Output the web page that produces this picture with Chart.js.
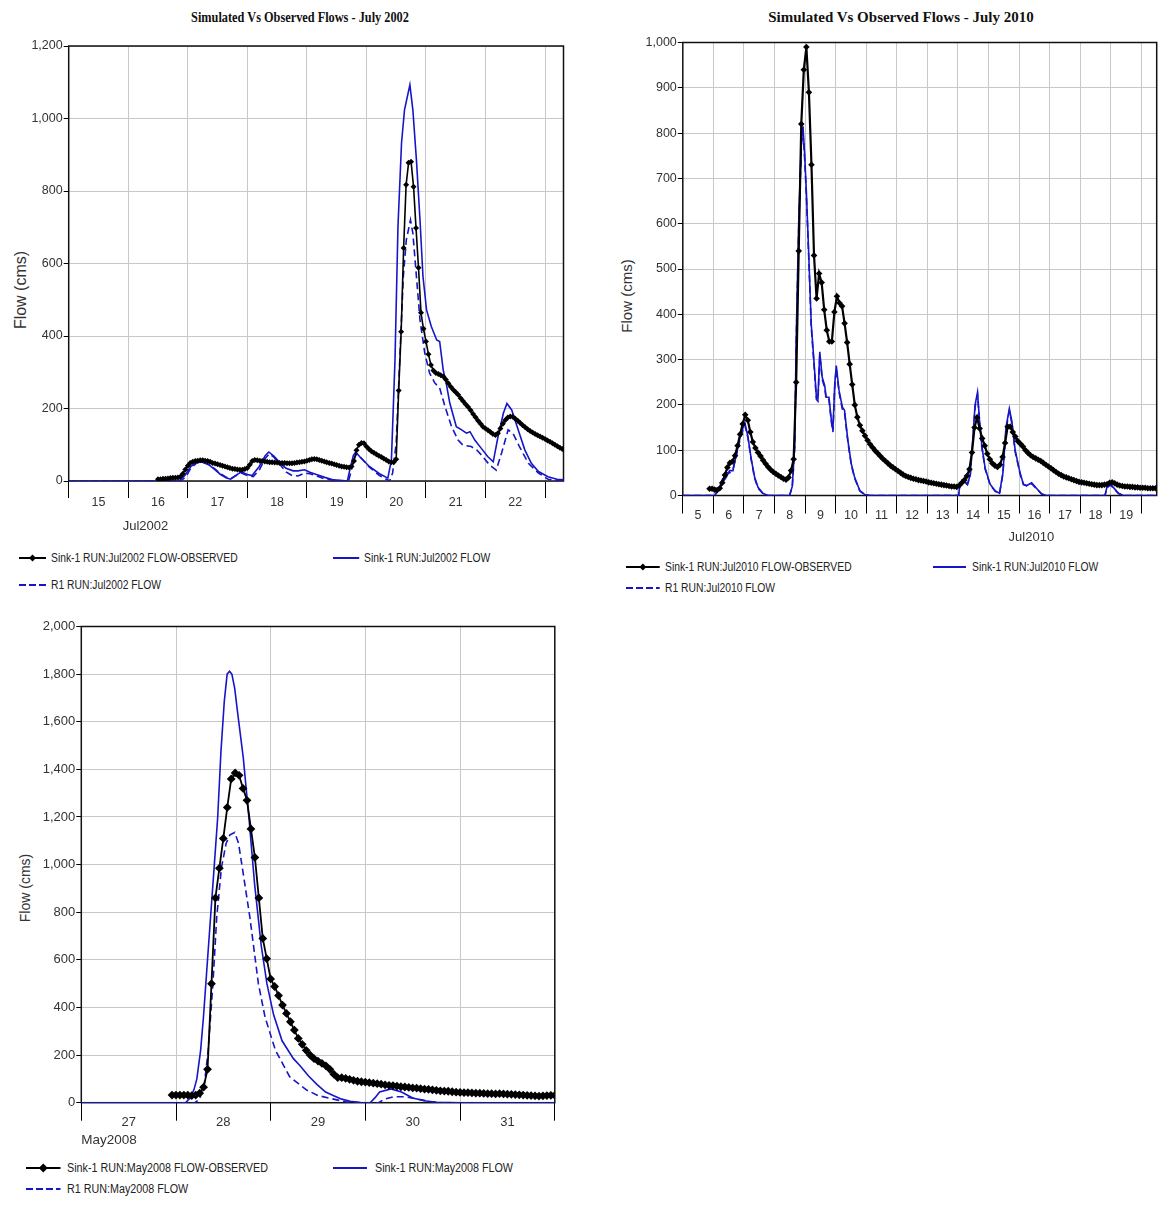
<!DOCTYPE html>
<html>
<head>
<meta charset="utf-8">
<script src="https://cdn.jsdelivr.net/npm/chart.js@4.4.1/dist/chart.umd.min.js"></script>
<style>
body { margin:0; background:#fff; }
#page { position:relative; width:1170px; height:1209px; overflow:hidden; font-family:"Liberation Sans", Arial, sans-serif; color:#222; }
canvas { position:absolute; }
.title { position:absolute; font:bold 15px "Liberation Serif", serif; white-space:nowrap; line-height:18px; color:#111; }
.ytitle { position:absolute; white-space:nowrap; transform:translate(-50%,-50%) rotate(-90deg); color:#333; }
.leg { position:absolute; white-space:nowrap; font-size:12px; line-height:16px; transform-origin:0 50%; transform:scaleX(0.86); color:#222; }
svg.sw { position:absolute; overflow:visible; }
</style>
</head>
<body>
<div id="page">
  <div class="title" style="left:300px;top:8px;transform:translateX(-50%) scaleX(0.82)">Simulated Vs Observed Flows - July 2002</div>
  <div class="title" style="left:901px;top:8px;transform:translateX(-50%)">Simulated Vs Observed Flows - July 2010</div>
  <div class="ytitle" style="left:21px;top:290px;font-size:16px">Flow (cms)</div>
  <div class="ytitle" style="left:626px;top:296px;font-size:15px">Flow (cms)</div>
  <div class="ytitle" style="left:25px;top:888px;font-size:14px">Flow (cms)</div>
  <canvas id="c1" width="580" height="540" style="left:0;top:0"></canvas>
  <canvas id="c2" width="580" height="550" style="left:590px;top:0"></canvas>
  <canvas id="c3" width="580" height="550" style="left:0;top:600px"></canvas>
</div>
<script>
const BLUE = '#1616c8';
const GRID = '#c8c8c8';
const CLEAR = 'rgba(0,0,0,0)';

// ---------- July 2002 ----------
const jul02ObsStart = 16.5;
const jul02ObsStep = 1 / 24;
const jul02Obs = [
  5,5,6,6,7,8,9,9,10,12,20,32,
  42,50,53,55,56,57,57,56,55,53,50,48,46,44,42,40,38,36,34,33,32,31,31,33,
  36,45,55,58,57,56,55,54,53,52,52,51,51,50,50,50,49,49,49,50,51,52,53,54,
  56,58,60,61,60,58,56,54,52,50,48,46,44,42,40,39,38,37,40,55,85,100,105,104,
  95,88,82,78,74,70,66,62,58,54,52,52,60,250,412,643,817,878,881,812,698,588,464,420,
  385,350,320,305,298,295,292,288,280,270,260,252,245,238,228,220,212,204,195,185,176,166,158,150,
  145,140,135,130,127,132,145,158,168,175,178,177,172,166,160,154,148,143,138,134,130,126,123,119,
  116,112,108,104,100,96,92,88,85
];
const jul02SimDays = [15,16.85,16.95,17.05,17.15,17.25,17.35,17.45,17.55,17.65,17.72,17.8,17.9,18.0,18.08,18.2,18.3,18.36,18.45,18.55,18.65,18.77,18.85,18.96,19.05,19.16,19.3,19.45,19.6,19.68,19.72,19.78,19.82,19.9,20.05,20.22,20.36,20.42,20.48,20.53,20.59,20.64,20.73,20.78,20.84,20.9,20.95,21.01,21.09,21.18,21.23,21.29,21.34,21.4,21.51,21.6,21.68,21.74,21.82,21.93,22.04,22.13,22.21,22.3,22.36,22.44,22.55,22.66,22.77,22.89,23.05,23.2,23.32];
const jul02Sim = [0,0,15,40,52,52,45,32,18,8,5,15,25,18,15,40,70,80,68,50,35,28,28,31,24,18,10,3,1,0,30,70,80,65,40,20,8,58,334,702,933,1024,1093,1024,886,720,564,472,426,389,385,306,270,215,150,141,132,136,113,90,67,53,122,187,214,196,141,86,49,26,12,5,3];
const jul02R1Days = [15,16.88,16.97,17.05,17.15,17.25,17.35,17.45,17.55,17.65,17.72,17.8,17.9,18.0,18.1,18.2,18.3,18.37,18.45,18.55,18.65,18.75,18.85,18.96,19.05,19.16,19.3,19.45,19.6,19.7,19.74,19.8,19.84,19.92,20.05,20.22,20.39,20.44,20.5,20.56,20.62,20.67,20.74,20.78,20.84,20.9,20.98,21.06,21.15,21.23,21.32,21.43,21.54,21.62,21.76,21.85,21.93,22.07,22.18,22.27,22.38,22.46,22.57,22.72,22.89,23.05,23.2,23.32];
const jul02R1 = [0,0,12,35,50,52,46,34,20,10,6,14,22,15,12,30,62,75,65,45,25,15,14,22,20,14,6,2,0,0,25,65,75,62,38,15,0,22,105,334,564,665,720,684,564,444,353,298,270,257,205,150,113,99,95,86,72,44,30,77,141,132,95,49,22,5,2,1];

// ---------- July 2010 ----------
const jul10ObsStart = 5.875;
const jul10ObsStep = 1 / 12;
const jul10Obs = [
  15,15,
  13,12,16,28,45,62,72,75,88,110,135,158,
  178,166,140,118,105,95,87,78,70,63,57,52,
  48,44,41,37,35,40,55,80,250,540,820,940,
  990,890,730,530,435,490,470,410,365,340,340,405,
  440,425,418,380,338,290,245,200,173,155,143,132,
  122,113,106,99,93,87,81,76,71,66,62,58,
  54,50,46,43,41,39,37,36,34,33,32,31,
  29,28,27,26,25,24,23,22,21,20,20,19,
  22,28,34,43,58,95,150,172,148,126,110,92,
  80,71,66,63,68,85,116,152,152,140,130,120,
  114,108,100,94,89,85,82,79,76,72,68,64,
  60,56,52,48,45,42,40,38,36,34,32,30,
  29,28,27,26,25,24,23,23,23,24,25,28,
  29,27,24,22,21,20,20,19,19,18,18,17,
  17,17,16,16,16,16
];
const jul10SimDays = [5,6.04,6.15,6.31,6.42,6.53,6.64,6.75,6.86,6.97,7.03,7.13,7.24,7.35,7.46,7.62,7.78,8.49,8.58,8.66,8.71,8.79,8.88,8.93,8.98,9.04,9.13,9.2,9.28,9.37,9.42,9.48,9.56,9.64,9.69,9.78,9.86,9.91,9.97,10.02,10.11,10.22,10.29,10.4,10.51,10.62,10.79,10.95,11.11,14.02,14.07,14.2,14.31,14.4,14.48,14.56,14.64,14.7,14.78,14.89,15.05,15.22,15.36,15.47,15.57,15.68,15.76,15.87,16.03,16.14,16.25,16.41,16.58,16.74,16.9,18.81,18.87,18.98,19.08,19.25,19.41,20.5];
const jul10Sim = [0,0,10,30,40,55,55,90,125,150,160,130,80,40,18,5,0,0,20,110,350,600,790,815,760,674,512,379,306,217,213,317,261,243,217,217,166,144,247,287,232,195,188,121,70,40,11,2,0,0,28,32,25,45,120,200,228,170,110,60,25,10,5,50,150,192,165,100,50,25,22,28,15,3,0,0,18,25,18,5,0,0];
const jul10R1 = [0,0,14,38,50,50,58,88,120,145,155,128,78,38,16,4,0,0,18,105,340,590,775,800,750,665,505,372,300,212,208,310,256,238,212,212,162,140,240,280,228,190,183,118,68,38,10,2,0,0,26,30,24,42,115,195,222,166,106,58,24,9,4,48,145,186,160,97,48,24,21,26,14,3,0,0,17,23,17,4,0,0];

// ---------- May 2008 ----------
const may08ObsStart = 27.958;
const may08ObsStep = 1 / 24;
const may08Obs = [
  32,32,32,32,32,30,32,40,65,140,
  500,860,985,1110,1240,1360,1385,1375,1320,1270,
  1150,1030,860,690,605,520,488,450,410,375,
  340,305,270,245,220,200,185,175,165,155,
  140,120,105,105,102,98,94,90,88,86,
  84,82,80,78,75,73,72,70,67,66,
  64,62,61,59,57,56,54,52,50,49,
  48,46,44,43,42,42,41,40,40,39,
  38,38,37,38,37,36,35,34,33,32,
  31,30,29,28,29,30,31,31
];
const may08SimDays = [27,28.1,28.15,28.19,28.22,28.26,28.29,28.34,28.39,28.44,28.475,28.51,28.54,28.565,28.59,28.62,28.65,28.71,28.77,28.83,28.9,28.96,29.03,29.12,29.24,29.31,29.4,29.49,29.58,29.66,29.75,29.84,29.95,30.05,30.1,30.15,30.27,30.38,30.5,30.62,30.75,31,32];
const may08Sim = [0,0,20,55,100,220,360,640,918,1197,1477,1686,1800,1812,1800,1740,1640,1450,1197,918,660,500,370,260,185,155,112,76,45,30,15,6,1,0,20,45,58,45,20,8,2,0,0];
const may08R1Days = [27,28.2,28.25,28.3,28.34,28.39,28.43,28.48,28.53,28.57,28.62,28.66,28.7,28.78,28.87,28.94,29.05,29.2,29.38,29.5,29.63,29.8,29.95,30.14,30.2,30.3,30.42,30.55,30.68,30.8,32];
const may08R1 = [0,0,15,80,220,500,779,988,1090,1125,1135,1090,988,779,500,360,220,109,53,30,18,3,0,0,15,25,25,15,5,0,0];

Chart.defaults.font.family = '"Liberation Sans", Arial, sans-serif';

function pairs(days, vals) { return days.map((d, i) => ({ x: d, y: vals[i] })); }
function hourly(start, step, vals) { return vals.map((v, i) => ({ x: start + i * step, y: v })); }

// gridline at each day, label in the middle of the day
function dayTicks(min, max) {
  const t = [];
  for (let d = Math.ceil(min); d <= max + 1e-9; d++) {
    t.push({ value: d });
    if (d + 1 <= max + 1e-9) t.push({ value: d + 0.5 });
  }
  return t;
}
const isDay = c => c.tick && c.tick.value % 1 === 0;

const frame = {
  id: 'frame',
  beforeDatasetsDraw(chart) {
    const { ctx, chartArea: a } = chart;
    ctx.save();
    ctx.strokeStyle = '#111';
    ctx.lineWidth = 1.5;
    ctx.strokeRect(a.left, a.top, a.right - a.left, a.bottom - a.top);
    ctx.restore();
  }
};

const monthLabel = {
  id: 'monthLabel',
  afterDraw(chart, args, opts) {
    const ctx = chart.ctx;
    const x = chart.scales.x.getPixelForValue(opts.day);
    ctx.save();
    ctx.font = opts.size + 'px "Liberation Sans"';
    ctx.fillStyle = '#333';
    ctx.textAlign = opts.align;
    ctx.textBaseline = 'middle';
    ctx.fillText(opts.text, x, chart.chartArea.bottom + opts.dy);
    ctx.restore();
  }
};

function obsSet(data, r, lw) {
  return { data, borderColor: '#000', borderWidth: lw, pointStyle: 'rectRot', pointRadius: r,
           pointBackgroundColor: '#000', pointBorderColor: '#000', pointBorderWidth: 0 };
}
function simSet(data) {
  return { data, borderColor: BLUE, borderWidth: 1.6, pointRadius: 0 };
}
function r1Set(data) {
  return { data, borderColor: BLUE, borderWidth: 1.6, borderDash: [7, 4], pointRadius: 0 };
}

function makeChart(id, g, datasets, month) {
  new Chart(document.getElementById(id), {
    type: 'line',
    data: { datasets },
    options: {
      animation: false,
      responsive: false,
      layout: { padding: { top: g.padTop, right: g.padRight, left: 0, bottom: 0 } },
      plugins: { legend: { display: false }, tooltip: { enabled: false }, monthLabel: month },
      scales: {
        x: {
          type: 'linear', min: g.xmin, max: g.xmax,
          border: { display: false },
          afterBuildTicks: s => { s.ticks = dayTicks(g.xmin, g.xmax); },
          afterFit: s => { s.height = g.xAxisH; },
          grid: { color: c => isDay(c) ? GRID : CLEAR, tickColor: c => isDay(c) ? '#000' : CLEAR,
                  tickLength: g.xTick, lineWidth: 1 },
          ticks: { autoSkip: false, maxRotation: 0, minRotation: 0, padding: g.xPad, color: '#333',
                   font: { size: g.font }, callback: v => v % 1 === 0 ? '' : String(Math.floor(v)) }
        },
        y: {
          min: 0, max: g.ymax,
          border: { display: false },
          afterFit: s => { s.width = g.axisW; },
          grid: { color: GRID, tickColor: '#000', tickLength: 5 },
          ticks: { stepSize: g.ystep, padding: 1, color: '#333', font: { size: g.font },
                   callback: v => v.toLocaleString('en-US') }
        }
      }
    },
    plugins: [frame, monthLabel]
  });
}

makeChart('c1',
  { padTop: 46, padRight: 16.5, axisW: 68.7, xAxisH: 59, xmin: 15, xmax: 23.31, ymax: 1200, ystep: 200, xTick: 17, xPad: -3, font: 12.5 },
  [obsSet(hourly(jul02ObsStart, jul02ObsStep, jul02Obs), 3, 1.6),
   simSet(pairs(jul02SimDays, jul02Sim)),
   r1Set(pairs(jul02R1Days, jul02R1))],
  { text: 'Jul2002', day: 16.29, dy: 45.7, align: 'center', size: 13 });

makeChart('c2',
  { padTop: 42.5, padRight: 13.3, axisW: 92.8, xAxisH: 54.5, xmin: 5, xmax: 20.5, ymax: 1000, ystep: 100, xTick: 18, xPad: -5, font: 12.5 },
  [obsSet(hourly(jul10ObsStart, jul10ObsStep, jul10Obs), 3.3, 2.2),
   simSet(pairs(jul10SimDays, jul10Sim)),
   r1Set(pairs(jul10SimDays, jul10R1))],
  { text: 'Jul2010', day: 16.4, dy: 41.5, align: 'center', size: 13 });

makeChart('c3',
  { padTop: 26.5, padRight: 25.2, axisW: 81.3, xAxisH: 47.3, xmin: 27, xmax: 32, ymax: 2000, ystep: 200, xTick: 18, xPad: -6.5, font: 13 },
  [obsSet(hourly(may08ObsStart, may08ObsStep, may08Obs), 4.4, 1.8),
   simSet(pairs(may08SimDays, may08Sim)),
   r1Set(pairs(may08R1Days, may08R1))],
  { text: 'May2008', day: 27, dy: 37.3, align: 'left', size: 13.5 });

// legends (HTML)
function legendItem(kind, x1, x2, y, textX, text, size, dr) {
  const page = document.getElementById('page');
  const w = x2 - x1;
  let inner;
  if (kind === 'obs') {
    const c = w / 2;
    inner = `<line x1="0" y1="6" x2="${w}" y2="6" stroke="#000" stroke-width="2"/>` +
            `<polygon points="${c - dr},6 ${c},${6 - dr} ${c + dr},6 ${c},${6 + dr}" fill="#000"/>`;
  } else {
    inner = `<line x1="0" y1="6" x2="${w}" y2="6" stroke="${BLUE}" stroke-width="2"` +
            (kind === 'r1' ? ' stroke-dasharray="7,3"' : '') + '/>';
  }
  page.insertAdjacentHTML('beforeend',
    `<svg class="sw" style="left:${x1}px;top:${y - 6}px" width="${w}" height="12">${inner}</svg>` +
    `<div class="leg" style="left:${textX}px;top:${y - 8}px;font-size:${size}px">${text}</div>`);
}

legendItem('obs', 18.7, 45.7, 558, 50.6, 'Sink-1 RUN:Jul2002 FLOW-OBSERVED', 12, 3.5);
legendItem('sim', 332.6, 358.8, 558, 364, 'Sink-1 RUN:Jul2002 FLOW', 12, 0);
legendItem('r1', 18.7, 45.7, 585, 50.6, 'R1 RUN:Jul2002 FLOW', 12, 0);

legendItem('obs', 625.6, 659.3, 566.7, 665, 'Sink-1 RUN:Jul2010 FLOW-OBSERVED', 12, 3.5);
legendItem('sim', 932.7, 965.7, 566.7, 972, 'Sink-1 RUN:Jul2010 FLOW', 12, 0);
legendItem('r1', 625.6, 659.3, 587.5, 665, 'R1 RUN:Jul2010 FLOW', 12, 0);

legendItem('obs', 25.5, 60, 1167.5, 67.4, 'Sink-1 RUN:May2008 FLOW-OBSERVED', 12.5, 4.5);
legendItem('sim', 333, 367, 1167.5, 374.5, 'Sink-1 RUN:May2008 FLOW', 12.5, 0);
legendItem('r1', 25.5, 60, 1188.5, 67.4, 'R1 RUN:May2008 FLOW', 12.5, 0);
</script>
</body>
</html>
